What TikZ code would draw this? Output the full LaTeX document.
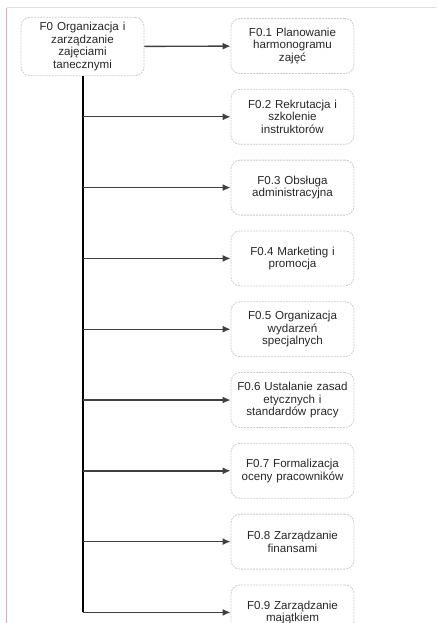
\documentclass[tikz,border=0pt]{standalone}
\usepackage{fontspec}
\setmainfont{Liberation Sans}
\usetikzlibrary{arrows.meta,positioning}
\definecolor{marginpink}{RGB}{236,160,180}
\definecolor{boxline}{RGB}{205,205,205}
\definecolor{labeltext}{RGB}{40,40,40}
\tikzset{
>={Latex[width=7pt,length=8pt]},
	taskbox/.style={
		rectangle,
		rounded corners=9pt,
		fill=white,
		draw=boxline, line width=0.8pt,
		dash pattern=on 2pt off 1pt,
		text width=113pt,
		inner sep=5pt,
		minimum height=55pt,
		align=center,
		text=labeltext,
		font=\fontsize{11.6}{12.5}\selectfont},
	branch/.style={
		->,
		draw=black!75, line width=1.4pt},
	trunk/.style={
		draw=black, line width=2pt}
}
\begin{document}
\begin{tikzpicture}
[x=1pt,y=-1pt,node distance=15pt]
\useasboundingbox (0,0) rectangle (437,623);
\draw[boxline!60, line width=0.6pt] (7,7) -- (437,7);
\draw[marginpink, line width=1pt] (6.5,8) -- (6.5,623);
\node[taskbox] (main) at (82.5,46.5) {F0 Organizacja i\\zarządzanie\\zajęciami\\tanecznymi};
\node[taskbox] (f1) at (292.5,46) {F0.1 Planowanie\\harmonogramu\\zajęć};
\node[taskbox, below=of f1] (f2) {F0.2 Rekrutacja i\\szkolenie\\instruktorów};
\node[taskbox, below=of f2] (f3) {F0.3 Obsługa\\administracyjna};
\node[taskbox, below=of f3] (f4) {F0.4 Marketing i\\promocja};
\node[taskbox, below=of f4] (f5) {F0.5 Organizacja\\wydarzeń\\specjalnych};
\node[taskbox, below=of f5] (f6) {F0.6 Ustalanie zasad\\etycznych i\\standardów pracy};
\node[taskbox, below=of f6] (f7) {F0.7 Formalizacja\\oceny pracowników};
\node[taskbox, below=of f7] (f8) {F0.8 Zarządzanie\\finansami};
\node[taskbox, below=of f8] (f9) {F0.9 Zarządzanie\\majątkiem};
\draw[branch] (main) -- (f1);
\draw[trunk] (main.south) -- (main.south |- f9);
\foreach \f in {f2,f3,f4,f5,f6,f7,f8,f9}
	\draw[branch] (main.south |- \f) -- (\f);
\end{tikzpicture}
\end{document}
